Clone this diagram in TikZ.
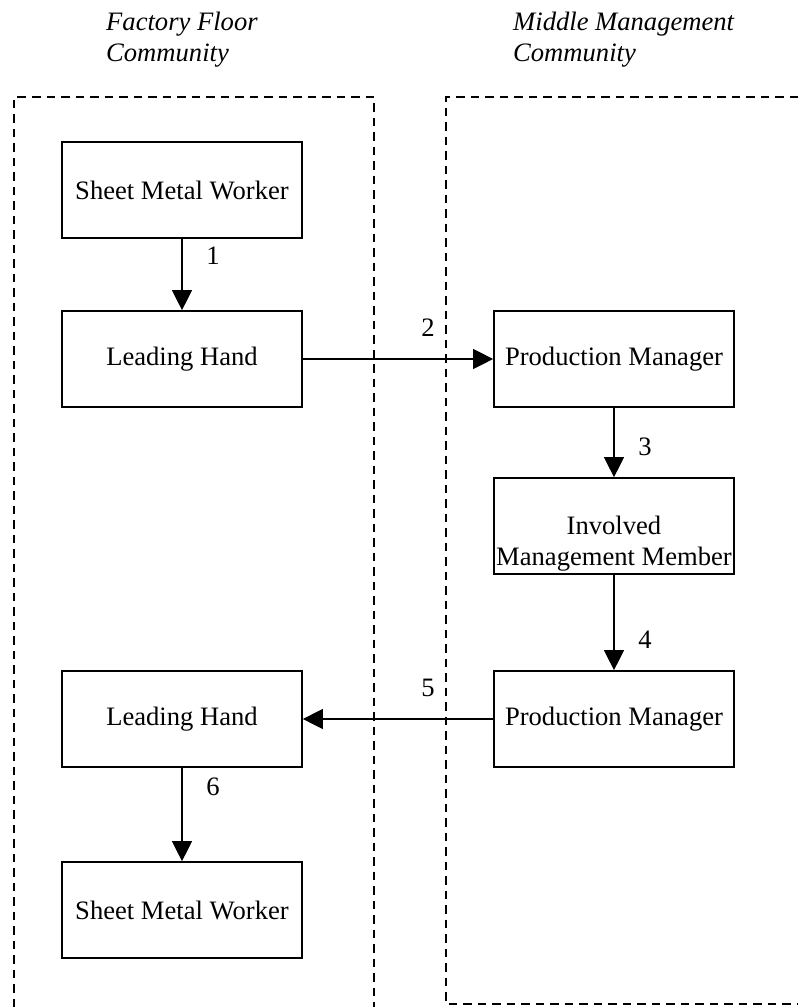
\documentclass[tikz,border=0pt]{standalone}
\usepackage{fontspec}
\setmainfont{Liberation Serif}
\usetikzlibrary{arrows.meta}
\begin{document}
\begin{tikzpicture}[x=1pt,y=-1pt,
  every node/.style={font=\fontsize{26.6}{30.5}\selectfont},
  box/.style={draw,line width=1.7pt,minimum width=240pt,minimum height=96pt,inner sep=0pt},
  zone/.style={line width=1.5pt,dash pattern=on 8.5pt off 6pt},
  arr/.style={line width=1.3pt,-{Triangle[width=20pt,length=20pt]}},
  num/.style={inner sep=0pt},
  title/.style={anchor=base west,inner sep=0pt,font=\fontsize{26.6}{30.5}\selectfont\itshape}]
\useasboundingbox (0,0) rectangle (798,1007);
% community zones
\draw[zone] (14,1007) -- (14,97) -- (374,97) -- (374,1007);
\draw[zone] (798,97) -- (446,97) -- (446,1004) -- (798,1004);
% titles
\node[title] (t1a) at (106,30) {Factory Floor};
\node[title] (t1b) at (106,61) {Community};
\node[title] (t2a) at (513,30) {Middle Management};
\node[title] (t2b) at (513,61) {Community};
% boxes
\node[box] (smw1) at (182,190) {Sheet Metal Worker};
\node[box] (lh1) at (182,359) {Leading Hand};
\node[box] (pm1) at (614,359) {Production Manager};
\node[box] (inv) at (614,526) {};
\node[inner sep=0pt,anchor=north,align=center] (invtxt) at ([yshift=-39pt]inv.north) {Involved\\Management Member};
\node[box] (pm2) at (614,719) {Production Manager};
\node[box] (lh2) at (182,719) {Leading Hand};
\node[box] (smw2) at (182,910) {Sheet Metal Worker};
% connectors
\draw[arr] (smw1) -- (lh1);
\draw[arr] (lh1) -- (pm1);
\draw[arr] (pm1) -- (inv);
\draw[arr] (inv) -- (pm2);
\draw[arr] (pm2) -- (lh2);
\draw[arr] (lh2) -- (smw2);
% labels
\node[num] (n1) at (213,256) {1};
\node[num] (n2) at (428,328) {2};
\node[num] (n3) at (645,447) {3};
\node[num] (n4) at (645,640) {4};
\node[num] (n5) at (428,688) {5};
\node[num] (n6) at (213,787) {6};
\end{tikzpicture}
\end{document}
